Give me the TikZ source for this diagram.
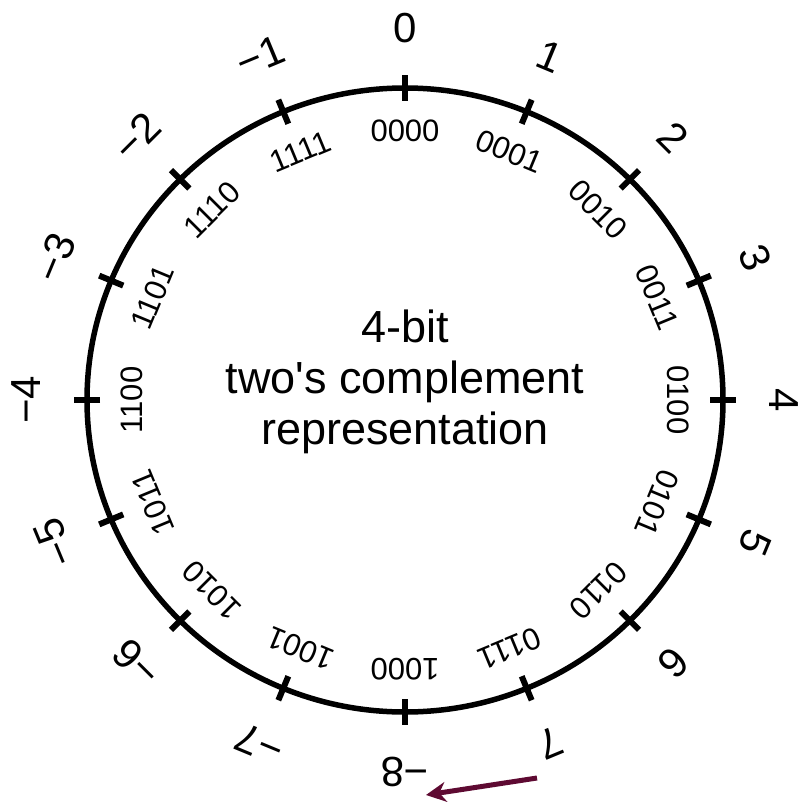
\documentclass[tikz,border=0pt]{standalone}
\usepackage{fontspec}
\setmainfont{Liberation Sans}[Ligatures=TeXOff]
\usetikzlibrary{arrows.meta}
\definecolor{arrowmaroon}{HTML}{5E0A32}
\begin{document}
\begin{tikzpicture}[x=1pt,y=-1pt,
  outerlbl/.style={inner sep=0pt, font=\fontsize{42}{42}\selectfont},
  innerlbl/.style={inner sep=0pt, font=\fontsize{31}{31}\selectfont},
  ticmark/.style={line width=6pt},
  dial/.style={line width=5.5pt},
  titletext/.style={anchor=base, inner sep=0pt, font=\fontsize{45}{51}\selectfont},
  wraparrow/.style={-{Stealth[length=20pt,width=20pt]}, line width=5pt, arrowmaroon}]
\useasboundingbox (0,0) rectangle (801,802);
\draw[dial] (405,400) ellipse [x radius=318pt, y radius=312pt];
\foreach \k/\v/\b in {0/0/0000,1/1/0001,2/2/0010,3/3/0011,4/4/0100,5/5/0101,6/6/0110,7/7/0111,
  8/−8/1000,9/−7/1001,10/−6/1010,11/−5/1011,12/−4/1100,13/−3/1101,14/−2/1110,15/−1/1111} {
  \pgfmathsetmacro\a{\k*22.5}
  \draw[ticmark] ({405+305*sin(\a)},{400-299*cos(\a)}) -- ({405+331*sin(\a)},{400-325*cos(\a)});
  \node[outerlbl, rotate=-\a] (v\k) at ({405+379*sin(\a)},{400-372*cos(\a)}) {\v};
  \node[innerlbl, rotate=-\a] (b\k) at ({405+273*sin(\a)},{400-269*cos(\a)}) {\b};
}
\node[titletext] (title1) at (405,342) {4-bit};
\node[titletext] (title2) at (405,393) {two's complement};
\node[titletext] (title3) at (405,444) {representation};
\coordinate (arrowstart) at (537,778);
\coordinate (arrowend) at (426,795);
\draw[wraparrow] (arrowstart) -- (arrowend);
\end{tikzpicture}
\end{document}
